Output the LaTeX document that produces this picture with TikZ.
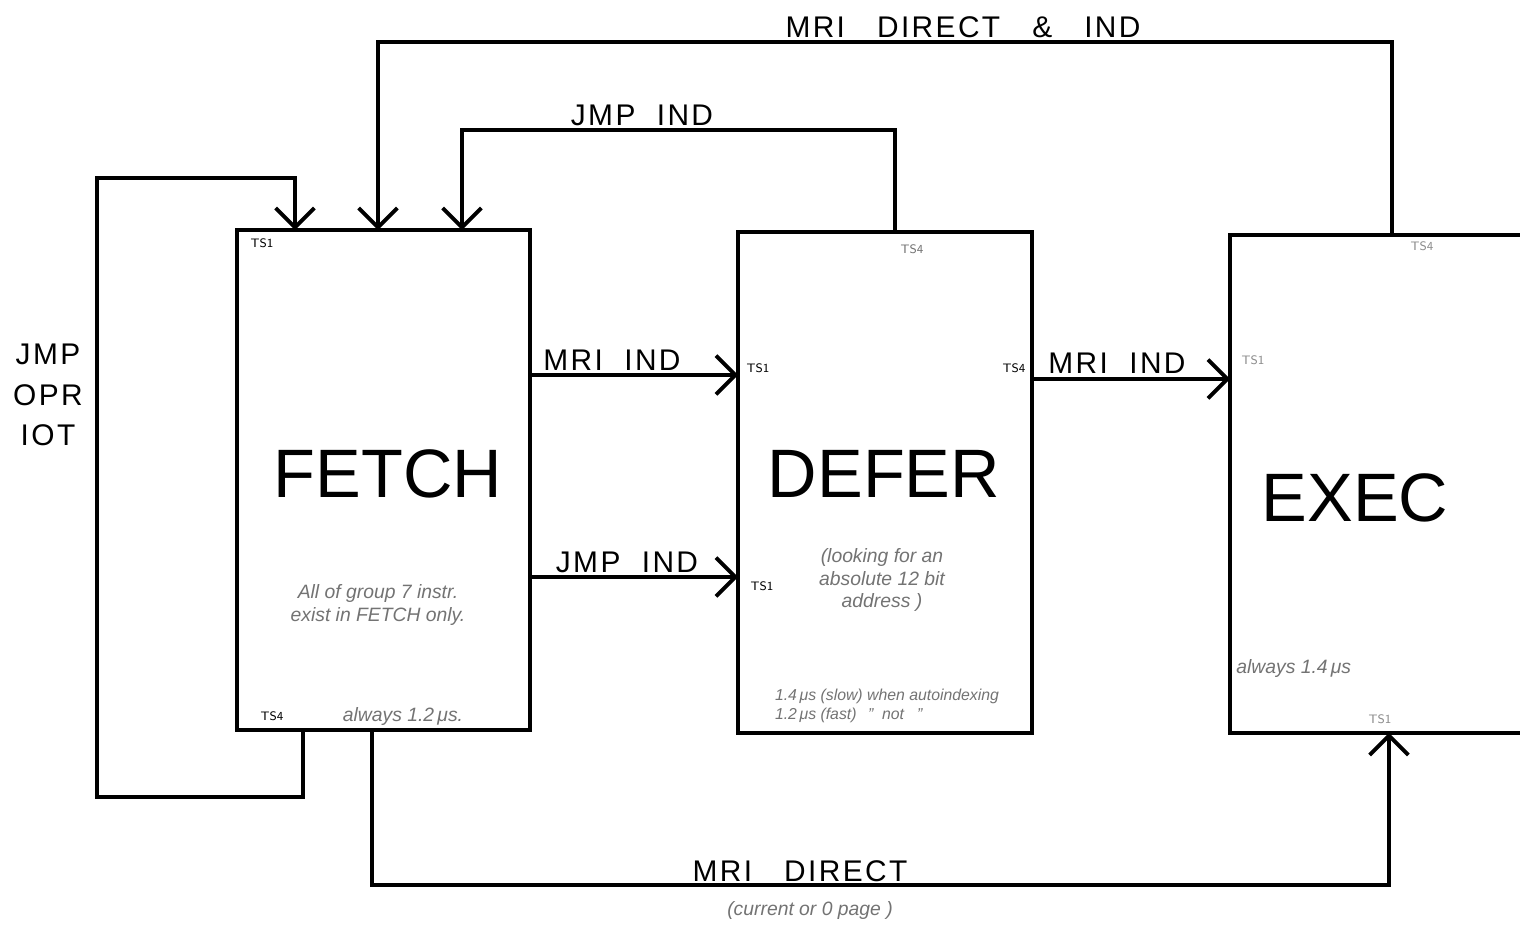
\documentclass[tikz,border=0pt]{standalone}
\usepackage{fontspec}
\setmainfont{Liberation Sans}
\newfontfamily\handfont[LetterSpace=8]{Liberation Sans}
\newfontfamily\titlefont{Liberation Sans}
\usetikzlibrary{arrows.meta,calc}
\tikzset{
  box/.style={draw, line width=2.4pt, inner sep=0pt, outer sep=0pt},
  conn/.style={line width=2.2pt},
  arr/.style={conn, -{Straight Barb[length=11pt,width=22pt,line width=2.2pt]}},
  lab/.style={font=\handfont\fontsize{17}{19}\selectfont, inner sep=1pt, anchor=base},
  title/.style={font=\titlefont\fontsize{39}{44}\selectfont},
  ts/.style={font=\sffamily\fontsize{7}{8}\selectfont, inner sep=0pt},
  note/.style={font=\itshape\fontsize{11}{13}\selectfont, text=black!55, inner sep=0pt, align=center}
}
\begin{document}
\begin{tikzpicture}[x=0.02cm,y=-0.02cm]
\clip (0,0) rectangle (1520,928);
\fill[white] (0,0) rectangle (1520,928);
% boxes
\node[box, minimum width=5.86cm, minimum height=10cm] (fetch) at (383.5,480) {};
\node[box, minimum width=5.88cm, minimum height=10.02cm] (defer) at (885,482.5) {};
\node[box, minimum width=6.4cm, minimum height=9.96cm] (exec) at (1390,484) {};
% titles
\node[title] (tf) at (388,474) {FETCH};
\node[title] (td) at (884,474) {DEFER};
\node[title] (te) at (1355,498) {EXEC};
% x/y helper coordinates
\coordinate (xa) at (303,0);
\coordinate (xb) at (295,0);
\coordinate (xc) at (378,0);
\coordinate (xd) at (895,0);
\coordinate (xe) at (1392,0);
\coordinate (xf) at (462,0);
\coordinate (xg) at (372,0);
\coordinate (xh) at (1389,0);
\coordinate (y1) at (0,375);
\coordinate (y2) at (0,577);
\coordinate (y3) at (0,379);
\coordinate (la) at (97,797);
\coordinate (lb) at (97,178);
% connectors
\draw[arr] (fetch.south -| xa) -- (xa |- la) -- (la) -- (lb) -- (lb -| xb) -- (fetch.north -| xb);
\draw[arr] (exec.north -| xe) -- ++(0,-193) -| (fetch.north -| xc);
\draw[arr] (defer.north -| xd) -- ++(0,-102) -| (fetch.north -| xf);
\draw[arr] (fetch.south -| xg) -- ++(0,155) -| (exec.south -| xh);
\draw[arr] (fetch.east |- y1) -- (defer.west |- y1);
\draw[arr] (fetch.east |- y2) -- (defer.west |- y2);
\draw[arr] (defer.east |- y3) -- (exec.west |- y3);
% connector labels
\node[lab] (l1) at (963,38) {MRI\ \ \ DIRECT\ \ \ \&\ \ \ IND};
\node[lab] (l2) at (642,126) {JMP\ \ IND};
\node[lab] (l3) at (612,371) {MRI\ \ IND};
\node[lab] (l4) at (627,572) {JMP\ \ IND};
\node[lab] (l5) at (1117,374) {MRI\ \ IND};
\node[lab] (l6) at (800,881) {MRI\ \ \ DIRECT};
\node[note] (l7) at (810,910) {(current or 0 page )};
\node[lab, anchor=center, align=center] (l8) at (48,395) {JMP\\[4pt]OPR\\[4pt]IOT};
% time-state marks
\node[ts] (t1) at (262,243) {TS1};
\node[ts] (t2) at (272,716) {TS4};
\node[ts, text=black!55] (t3) at (912,249) {TS4};
\node[ts] (t4) at (758,368) {TS1};
\node[ts] (t5) at (1014,368) {TS4};
\node[ts] (t6) at (762,586) {TS1};
\node[ts, text=black!45] (t7) at (1422,246) {TS4};
\node[ts, text=black!45] (t8) at (1253,360) {TS1};
\node[ts, text=black!45] (t9) at (1380,719) {TS1};
% notes
\node[note] (n1) at (378,605) {All of group 7 instr.\\ exist in FETCH only.};
\node[note] (n2) at (403,716) {always 1.2\,μs.};
\node[note] (n3) at (882,580) {(looking for an\\ absolute 12 bit\\ address )};
\node[note, font=\itshape\fontsize{9}{11}\selectfont, align=left] (n4) at (887,706) {1.4\,μs (slow) when autoindexing\\ 1.2\,μs (fast) \ \,"\ \ not \ \ "};
\node[note, anchor=west] (n5) at (1236,669) {always 1.4\,μs};
\end{tikzpicture}
\end{document}
